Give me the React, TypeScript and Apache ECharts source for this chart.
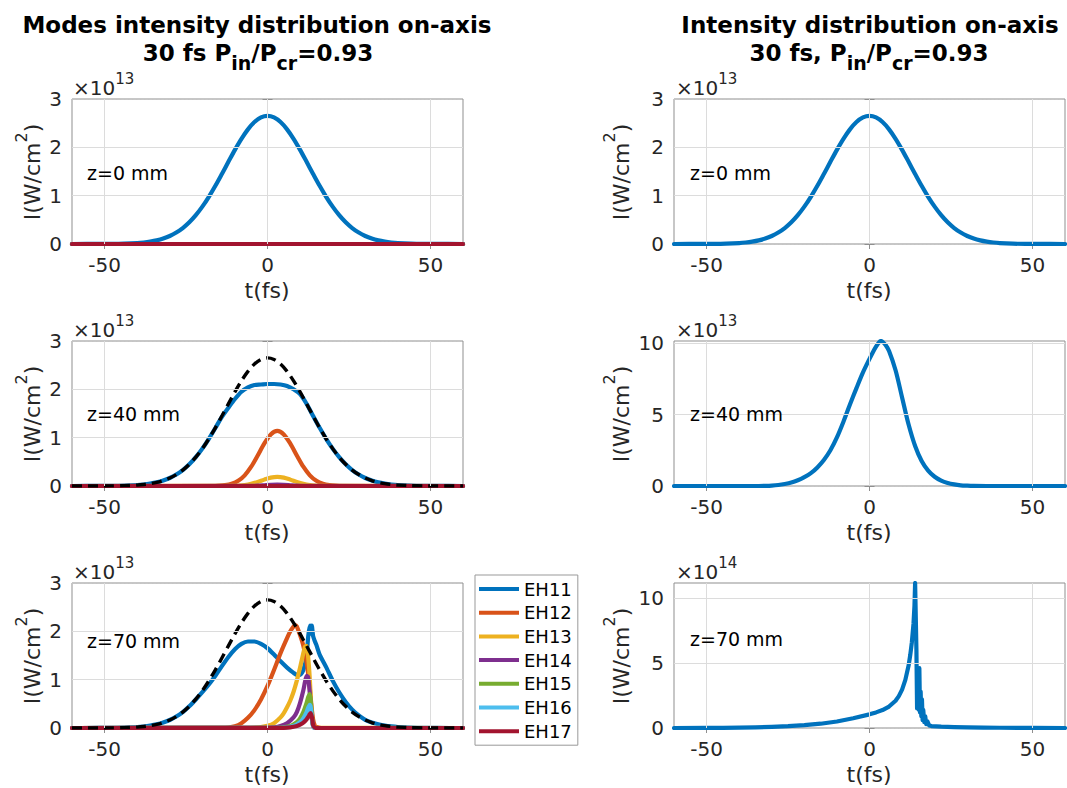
import React, { useEffect, useRef } from "react";
import * as echarts from "echarts";

// Time samples in fs; intensities in units of 1e13 W/cm^2
// (right-hand z=70 mm panel is in units of 1e14 W/cm^2).

const T_PULSE = [-60, -52, -48, -44, -40, -38, -36, -34, -32, -30, -28, -26, -24, -22, -20, -18, -16, -14, -12, -10, -8, -6, -4, -2, 0, 2, 4, 6, 8, 10, 12, 14, 16, 18, 20, 22, 24, 26, 28, 30, 32, 34, 36, 38, 40, 44, 48, 52, 60];

// input pulse on axis (z = 0 mm), also drawn dashed as reference
const I_INPUT = [0, 0.001, 0.002, 0.007, 0.019, 0.031, 0.049, 0.075, 0.113, 0.166, 0.237, 0.330, 0.449, 0.597, 0.773, 0.977, 1.204, 1.449, 1.700, 1.948, 2.176, 2.372, 2.523, 2.618, 2.650, 2.618, 2.523, 2.372, 2.176, 1.948, 1.700, 1.449, 1.204, 0.977, 0.773, 0.597, 0.449, 0.330, 0.237, 0.166, 0.113, 0.075, 0.049, 0.031, 0.019, 0.007, 0.002, 0.001, 0];

const T_ZERO = [-60, 60];
const I_ZERO = [0, 0];

// z = 40 mm, modal intensities
const I_EH11_Z40 = [0, 0.001, 0.002, 0.007, 0.019, 0.031, 0.049, 0.075, 0.113, 0.166, 0.237, 0.330, 0.449, 0.597, 0.773, 0.977, 1.200, 1.430, 1.620, 1.800, 1.950, 2.040, 2.090, 2.100, 2.110, 2.110, 2.100, 2.070, 2.000, 1.900, 1.700, 1.449, 1.204, 0.977, 0.773, 0.597, 0.449, 0.330, 0.237, 0.166, 0.113, 0.075, 0.049, 0.031, 0.019, 0.007, 0.002, 0.001, 0];
const T_EH12_Z40 = [-60, -17, -15, -13, -11, -9, -7, -5, -3, -1, 1, 3, 5, 7, 9, 11, 13, 15, 17, 19, 21, 23, 60];
const I_EH12_Z40 = [0, 0.002, 0.006, 0.017, 0.046, 0.107, 0.221, 0.399, 0.632, 0.877, 1.068, 1.140, 1.068, 0.877, 0.632, 0.399, 0.221, 0.107, 0.046, 0.017, 0.006, 0.002, 0];
const T_EH13_Z40 = [-60, -11, -9, -7, -5, -3, -1, 1, 3, 5, 7, 9, 11, 13, 15, 17, 60];
const I_EH13_Z40 = [0, 0.002, 0.007, 0.019, 0.044, 0.083, 0.132, 0.173, 0.190, 0.173, 0.132, 0.083, 0.044, 0.019, 0.007, 0.002, 0];
const T_EH14_Z40 = [-60, -5, -3, -1, 1, 3, 5, 7, 9, 11, 60];
const I_EH14_Z40 = [0, 0.002, 0.007, 0.016, 0.025, 0.030, 0.025, 0.016, 0.007, 0.002, 0];

// z = 70 mm, modal intensities
const T_EH11_Z70 = [-60, -52, -48, -44, -40, -38, -36, -34, -32, -30, -28, -26, -24, -22, -20, -18, -16, -14, -12, -10, -8, -6, -4, -2, 0, 2, 4, 6, 8, 9, 10, 11, 12, 12.5, 13, 13.3, 13.6, 14, 14.5, 15, 16, 18, 20, 22, 24, 26, 28, 30, 32, 34, 36, 38, 40, 44, 48, 52, 60];
const I_EH11_Z70 = [0, 0.001, 0.002, 0.007, 0.019, 0.031, 0.049, 0.075, 0.113, 0.166, 0.237, 0.330, 0.449, 0.590, 0.740, 0.900, 1.080, 1.280, 1.470, 1.630, 1.740, 1.790, 1.790, 1.740, 1.650, 1.520, 1.380, 1.250, 1.140, 1.100, 1.100, 1.200, 1.500, 1.900, 2.120, 1.950, 2.120, 1.900, 1.800, 1.720, 1.520, 1.260, 0.980, 0.740, 0.540, 0.380, 0.260, 0.170, 0.115, 0.078, 0.050, 0.032, 0.020, 0.007, 0.002, 0.001, 0];
const T_EH12_Z70 = [-60, -14, -12, -10, -8, -6, -4, -2, 0, 2, 4, 6, 7, 8, 8.5, 9, 10, 11, 12, 13, 13.5, 14, 14.5, 15, 16, 17, 18, 60];
const I_EH12_Z70 = [0, 0.002, 0.010, 0.035, 0.100, 0.210, 0.370, 0.590, 0.870, 1.200, 1.550, 1.860, 2.000, 2.100, 2.130, 2.100, 1.920, 1.700, 1.360, 0.820, 0.450, 0.180, 0.050, 0.020, 0.005, 0, 0, 0];
const T_EH13_Z70 = [-60, -6, -4, -2, 0, 2, 4, 5, 6, 7, 8, 9, 10, 11, 11.5, 12, 12.5, 13, 13.5, 14, 14.5, 60];
const I_EH13_Z70 = [0, 0.002, 0.008, 0.020, 0.045, 0.100, 0.220, 0.310, 0.430, 0.570, 0.750, 0.980, 1.250, 1.550, 1.680, 1.700, 1.450, 1.000, 0.300, 0.060, 0.010, 0];
const T_EH14_Z70 = [-60, 0, 2, 4, 6, 8, 9, 10, 11, 11.5, 12, 12.5, 13, 13.5, 14, 14.5, 60];
const I_EH14_Z70 = [0, 0.003, 0.012, 0.040, 0.100, 0.220, 0.330, 0.520, 0.780, 0.950, 1.080, 1.050, 0.700, 0.250, 0.040, 0, 0];
const T_EH15_Z70 = [-60, 3, 5, 7, 9, 10, 11, 12, 12.5, 13, 13.3, 13.7, 14, 14.5, 60];
const I_EH15_Z70 = [0, 0.003, 0.012, 0.040, 0.120, 0.200, 0.330, 0.520, 0.640, 0.700, 0.550, 0.200, 0.050, 0, 0];
const T_EH16_Z70 = [-60, 4, 6, 8, 10, 11, 12, 12.5, 13, 13.3, 13.7, 14, 14.5, 60];
const I_EH16_Z70 = [0, 0.003, 0.012, 0.040, 0.120, 0.200, 0.330, 0.420, 0.480, 0.420, 0.150, 0.040, 0, 0];
const T_EH17_Z70 = [-60, 5, 7, 9, 10, 11, 12, 12.5, 13, 13.3, 13.7, 14, 14.5, 15, 60];
const I_EH17_Z70 = [0, 0.003, 0.012, 0.040, 0.070, 0.110, 0.180, 0.230, 0.290, 0.310, 0.200, 0.060, 0.010, 0, 0];

// total on-axis intensity
const T_TOTAL_Z40 = [-60, -34, -32, -30, -28, -26, -24, -22, -20, -18, -16, -14, -12, -10, -8, -6, -4, -2, 0, 1, 2, 3, 3.5, 4, 5, 6, 8, 10, 12, 14, 16, 18, 20, 22, 24, 26, 28, 30, 32, 36, 60];
const I_TOTAL_Z40 = [0, 0, 0.01, 0.03, 0.07, 0.14, 0.24, 0.40, 0.62, 0.90, 1.30, 1.82, 2.50, 3.40, 4.50, 5.70, 6.85, 7.95, 8.90, 9.35, 9.75, 10.07, 10.15, 10.10, 9.85, 9.45, 8.10, 6.20, 4.30, 2.80, 1.75, 1.08, 0.65, 0.38, 0.21, 0.11, 0.05, 0.025, 0.01, 0, 0];
const T_TOTAL_Z70 = [-60, -50, -45, -40, -35, -30, -25, -20, -15, -10, -5, 0, 2, 4, 6, 8, 9, 10, 11, 12, 12.5, 13, 13.5, 13.8, 14, 14.2, 14.4, 14.6, 14.9, 15.1, 15.3, 15.5, 15.7, 15.9, 16.1, 16.3, 16.5, 16.8, 17.1, 17.4, 17.8, 18.3, 19, 22, 26, 30, 35, 40, 50, 60];
const I_TOTAL_Z70 = [0, 0.005, 0.01, 0.025, 0.05, 0.09, 0.14, 0.22, 0.33, 0.5, 0.75, 1.05, 1.2, 1.38, 1.65, 2.1, 2.45, 2.95, 3.7, 4.8, 5.6, 6.6, 8.0, 9.4, 11.15, 11.15, 6.0, 1.5, 3.0, 1.4, 4.6, 1.2, 2.8, 0.9, 2.2, 0.6, 1.4, 0.45, 0.9, 0.3, 0.5, 0.2, 0.15, 0.1, 0.07, 0.05, 0.03, 0.02, 0.005, 0];

const MODE_NAMES = ["EH11", "EH12", "EH13", "EH14", "EH15", "EH16", "EH17"];
const MODE_COLORS = ["#0072BD", "#D95319", "#EDB120", "#7E2F8E", "#77AC30", "#4DBEEE", "#A2142F"];

const X_TICKS = [-50, 0, 50];
const Y_TICKS = [[0, 1, 2, 3], [0, 1, 2, 3], [0, 1, 2, 3], [0, 1, 2, 3], [0, 5, 10], [0, 5, 10]];
const Y_MAX = [3, 3, 3, 3, 10.15, 11.15];
const Y_STEP = [0.2, 0.2, 0.2, 0.2, 1, 1];
const EXPONENTS = ["13", "13", "13", "13", "13", "14"];
const Z_LABELS = ["z=0 mm", "z=40 mm", "z=70 mm"];

// layout (px)
const COL_LEFT = [72, 674];
const ROW_TOP = [99, 341, 583];
const PLOT_W = 391;
const PLOT_H = 145;

const FONT = "'DejaVu Sans', sans-serif";
const TEXT = "#262626";
const BOX = "#8f8f8f";
const MINOR = "#c4c4c4";
const MAJOR = "#dcdcdc";
const LINE_W = 4.2;

const zip = (t: number[], v: number[]) => t.map((x, i) => [x, v[i]]);

function buildOption() {
  const grids: any[] = [];
  const xAxes: any[] = [];
  const yAxes: any[] = [];
  const series: any[] = [];
  const graphics: any[] = [];

  for (let p = 0; p < 6; p++) {
    const col = p < 3 ? 0 : 1;
    const row = p % 3;
    const yt = Y_TICKS[p];
    grids.push({
      left: COL_LEFT[col], top: ROW_TOP[row], width: PLOT_W, height: PLOT_H,
      show: true, borderColor: BOX, borderWidth: 1, backgroundColor: "#fff",
    });
    xAxes.push({
      type: "value", gridIndex: p, min: -60, max: 60, interval: 10,
      axisLine: { show: false },
      axisTick: { show: true, inside: true, length: 5, customValues: X_TICKS, lineStyle: { color: BOX } },
      axisLabel: {
        customValues: X_TICKS, margin: 11, fontSize: 20, fontFamily: FONT, color: TEXT,
        formatter: (v: number) => (X_TICKS.includes(v) ? String(v) : ""),
      },
      splitLine: { show: true, lineStyle: { color: MINOR, width: 1, type: [1.5, 2.5] } },
    });
    yAxes.push({
      type: "value", gridIndex: p, min: 0, max: Y_MAX[p], interval: Y_STEP[p],
      axisLine: { show: false },
      axisTick: { show: true, inside: true, length: 5, customValues: yt, lineStyle: { color: BOX } },
      axisLabel: {
        customValues: yt, margin: 10, fontSize: 20, fontFamily: FONT, color: TEXT,
        formatter: (v: number) => {
          const r = Math.round(v);
          return Math.abs(v - r) < 1e-6 && yt.includes(r) ? String(r) : "";
        },
      },
      splitLine: { show: true, lineStyle: { color: MINOR, width: 1, type: [1.5, 2.5] } },
    });

    // solid major grid lines
    const majors: any[] = X_TICKS.map((v) => ({ xAxis: v }));
    yt.slice(1).forEach((v) => { if (v < Y_MAX[p]) majors.push({ yAxis: v }); });
    series.push({
      type: "line", name: "grid" + p, xAxisIndex: p, yAxisIndex: p, z: 1,
      data: [[-60, 0]], symbol: "none", lineStyle: { width: 0 }, silent: true,
      markLine: {
        silent: true, symbol: ["none", "none"], label: { show: false },
        lineStyle: { color: MAJOR, type: "solid", width: 1 },
        emphasis: { disabled: true },
        data: majors,
      },
    });

    // exponent
    graphics.push({
      type: "text", z: 100, x: COL_LEFT[col] + (col === 0 ? 1 : 2), y: ROW_TOP[row] - 1.5, silent: true,
      style: {
        text: "{m|×10}{s|" + EXPONENTS[p] + "}",
        align: "left", verticalAlign: "bottom", textAlign: "left", textVerticalAlign: "bottom",
        rich: {
          m: { fontSize: 20, fontFamily: FONT, fill: TEXT, lineHeight: 20, verticalAlign: "bottom" },
          s: { fontSize: 15, fontFamily: FONT, fill: TEXT, lineHeight: 38, verticalAlign: "middle" },
        },
      },
    });
    // y-axis label
    graphics.push({
      type: "text", z: 100, x: col === 0 ? 21 : 609.5, y: ROW_TOP[row] + 73, rotation: Math.PI / 2, silent: true,
      style: {
        text: "{m|I(W/cm}{s|2}{m|)}",
        align: "center", verticalAlign: "middle", textAlign: "center", textVerticalAlign: "middle",
        rich: {
          m: { fontSize: 22, fontFamily: FONT, fill: TEXT, lineHeight: 22, verticalAlign: "bottom" },
          s: { fontSize: 16, fontFamily: FONT, fill: TEXT, lineHeight: 45, verticalAlign: "middle" },
        },
      },
    });
    // x-axis label
    graphics.push({
      type: "text", z: 100, x: COL_LEFT[col] + PLOT_W / 2 - 0.5, y: ROW_TOP[row] + PLOT_H + 46, silent: true,
      style: {
        text: "t(fs)", fontSize: 22, fontFamily: FONT, fill: TEXT,
        align: "center", verticalAlign: "middle", textAlign: "center", textVerticalAlign: "middle",
      },
    });
    // position annotation
    const zy = [173, 414, col === 0 ? 641 : 638.5][row];
    graphics.push({
      type: "text", z: 100, x: col === 0 ? 87 : 690, y: zy, silent: true,
      style: {
        text: Z_LABELS[row], fontSize: 19, fontFamily: FONT, fill: "#000",
        align: "left", verticalAlign: "middle", textAlign: "left", textVerticalAlign: "middle",
      },
    });
  }

  // mirrored ticks on the top and right edges of each box
  for (let p = 0; p < 6; p++) {
    xAxes.push({
      type: "value", gridIndex: p, position: "top", min: -60, max: 60, interval: 10,
      axisLine: { show: false }, axisLabel: { show: false }, splitLine: { show: false },
      axisTick: { show: true, inside: true, length: 5, customValues: X_TICKS, lineStyle: { color: BOX } },
    });
    yAxes.push({
      type: "value", gridIndex: p, position: "right", min: 0, max: Y_MAX[p], interval: Y_STEP[p],
      axisLine: { show: false }, axisLabel: { show: false }, splitLine: { show: false },
      axisTick: { show: true, inside: true, length: 5, customValues: Y_TICKS[p], lineStyle: { color: BOX } },
    });
  }

  const line = (name: string, p: number, t: number[], v: number[], color: string, smooth: number, extra: any = {}) => ({
    type: "line", name, xAxisIndex: p, yAxisIndex: p, data: zip(t, v), z: 3,
    symbol: "none", showSymbol: false, silent: true, clip: true,
    smooth: smooth > 0 ? smooth : false,
    lineStyle: { color, width: LINE_W, join: "round", cap: "round", ...(extra.lineStyle || {}) },
    itemStyle: { color },
    emphasis: { disabled: true },
  });

  const modeRows: [number[], number[]][][] = [
    [[T_PULSE, I_INPUT], [T_ZERO, I_ZERO], [T_ZERO, I_ZERO], [T_ZERO, I_ZERO], [T_ZERO, I_ZERO], [T_ZERO, I_ZERO], [T_ZERO, I_ZERO]],
    [[T_PULSE, I_EH11_Z40], [T_EH12_Z40, I_EH12_Z40], [T_EH13_Z40, I_EH13_Z40], [T_EH14_Z40, I_EH14_Z40], [T_ZERO, I_ZERO], [T_ZERO, I_ZERO], [T_ZERO, I_ZERO]],
    [[T_EH11_Z70, I_EH11_Z70], [T_EH12_Z70, I_EH12_Z70], [T_EH13_Z70, I_EH13_Z70], [T_EH14_Z70, I_EH14_Z70], [T_EH15_Z70, I_EH15_Z70], [T_EH16_Z70, I_EH16_Z70], [T_EH17_Z70, I_EH17_Z70]],
  ];
  modeRows.forEach((modes, row) => {
    modes.forEach(([t, v], m) => series.push(line(MODE_NAMES[m], row, t, v, MODE_COLORS[m], row === 2 ? 0.2 : 0.3)));
    if (row > 0) {
      series.push(line("input", row, T_PULSE, I_INPUT, "#000", 0.3, { lineStyle: { width: 3.4, type: [10, 6], cap: "butt" } }));
    }
  });
  series.push(line("total0", 3, T_PULSE, I_INPUT, MODE_COLORS[0], 0.3));
  series.push(line("total40", 4, T_TOTAL_Z40, I_TOTAL_Z40, MODE_COLORS[0], 0.3));
  series.push(line("total70", 5, T_TOTAL_Z70, I_TOTAL_Z70, MODE_COLORS[0], 0));

  // titles
  const titleRich = {
    m: { fontSize: 23, fontWeight: "bold", fontFamily: FONT, fill: "#000", lineHeight: 23, verticalAlign: "top" },
    s: { fontSize: 19, fontWeight: "bold", fontFamily: FONT, fill: "#000", lineHeight: 44, verticalAlign: "middle" },
  };
  graphics.push(
    {
      type: "text", z: 100, x: 257, y: 24.5, silent: true,
      style: { text: "Modes intensity distribution on-axis", fontSize: 23, fontWeight: "bold", fontFamily: FONT, fill: "#000", align: "center", verticalAlign: "middle", textAlign: "center", textVerticalAlign: "middle" },
    },
    {
      type: "text", z: 100, x: 258, y: 41, silent: true,
      style: { text: "{m|30 fs P}{s|in}{m|/P}{s|cr}{m|=0.93}", rich: titleRich, align: "center", verticalAlign: "top", textAlign: "center", textVerticalAlign: "top" },
    },
    {
      type: "text", z: 100, x: 870, y: 24.5, silent: true,
      style: { text: "Intensity distribution on-axis", fontSize: 23, fontWeight: "bold", fontFamily: FONT, fill: "#000", align: "center", verticalAlign: "middle", textAlign: "center", textVerticalAlign: "middle" },
    },
    {
      type: "text", z: 100, x: 869, y: 41, silent: true,
      style: { text: "{m|30 fs, P}{s|in}{m|/P}{s|cr}{m|=0.93}", rich: titleRich, align: "center", verticalAlign: "top", textAlign: "center", textVerticalAlign: "top" },
    }
  );

  return {
    animation: false,
    backgroundColor: "#fff",
    grid: grids,
    xAxis: xAxes,
    yAxis: yAxes,
    series,
    legend: {
      show: true,
      data: MODE_NAMES.map((name) => ({ name, icon: "rect" })),
      orient: "vertical", left: 475, top: 575,
      itemWidth: 40, itemHeight: 4, itemGap: 3.7,
      padding: [4, 6, 4, 4],
      borderColor: "#999", borderWidth: 1, backgroundColor: "#fff",
      selectedMode: false,
      textStyle: { fontSize: 18, fontFamily: FONT, color: "#000", lineHeight: 20 },
    },
    graphic: { elements: graphics },
  };
}

export default function App() {
  const ref = useRef<HTMLDivElement>(null);
  useEffect(() => {
    if (!ref.current) return;
    const chart = echarts.init(ref.current, null, { renderer: "svg" });
    chart.setOption(buildOption() as any);
    return () => chart.dispose();
  }, []);
  return (
    <div
      ref={ref}
      style={{ position: "fixed", left: 0, top: 0, width: 1067, height: 788, background: "#fff" }}
    />
  );
}
